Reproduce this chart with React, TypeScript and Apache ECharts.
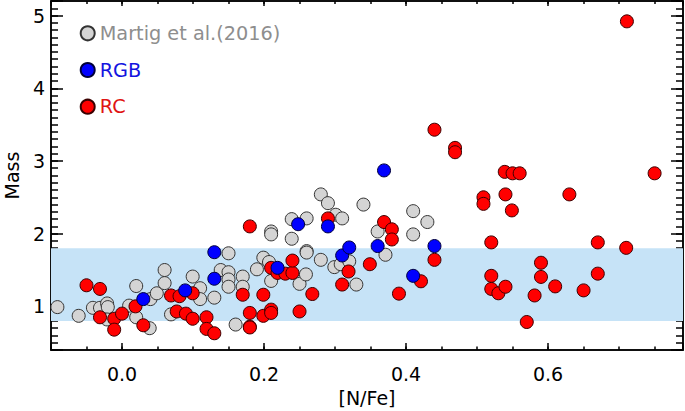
import React, { useEffect, useRef } from "react";
import * as echarts from "echarts";

// [N/Fe], Mass
const martigPoints: [number, number][] = [
  [-0.091, 0.99], [-0.061, 0.87], [-0.041, 0.98], [-0.031, 0.98], [-0.021, 1.04],
  [-0.02, 0.99], [-0.021, 0.82], [0.01, 1.01], [0.02, 1.28], [0.02, 0.85],
  [0.039, 0.7], [0.04, 1.1], [0.049, 1.18], [0.06, 1.32], [0.06, 1.5],
  [0.069, 0.89], [0.0995, 1.41], [0.11, 1.25], [0.11, 1.1], [0.13, 1.12],
  [0.139, 1.5], [0.15, 1.47], [0.15, 1.37], [0.15, 1.27], [0.15, 1.73],
  [0.17, 1.41], [0.17, 1.27], [0.16, 0.75], [0.19, 1.51], [0.199, 1.67],
  [0.207, 1.61], [0.21, 1.35], [0.21, 2.03], [0.21, 1.99], [0.239, 2.2],
  [0.239, 1.93], [0.25, 1.31], [0.26, 2.21], [0.26, 1.76], [0.26, 1.74],
  [0.259, 1.44], [0.28, 2.54], [0.29, 2.42], [0.301, 2.26], [0.31, 2.21],
  [0.28, 1.64], [0.299, 1.54], [0.308, 1.58], [0.32, 1.62], [0.33, 1.3],
  [0.34, 2.4], [0.36, 2.03], [0.371, 1.71], [0.41, 2.31], [0.41, 1.99],
  [0.43, 2.16],
];

const rcPoints: [number, number][] = [
  [-0.05, 1.29], [-0.031, 1.24], [-0.031, 0.85], [-0.011, 0.83], [-0.011, 0.68],
  [0.0, 0.9], [0.019, 1.0], [0.03, 0.74], [0.069, 1.15], [0.081, 1.14],
  [0.0995, 1.18], [0.077, 0.93], [0.09, 0.9], [0.0995, 0.83], [0.119, 0.85],
  [0.119, 0.69], [0.13, 0.63], [0.17, 1.16], [0.18, 2.1], [0.18, 0.91],
  [0.18, 0.72], [0.18, 0.71], [0.199, 1.16], [0.199, 0.87], [0.21, 0.955],
  [0.21, 0.91], [0.21, 1.53], [0.219, 1.46], [0.23, 1.45], [0.24, 1.46],
  [0.24, 1.63], [0.25, 0.93], [0.268, 1.17], [0.29, 2.21], [0.31, 1.3],
  [0.319, 1.48], [0.349, 1.58], [0.369, 2.16], [0.38, 2.06], [0.38, 1.92],
  [0.39, 1.175], [0.421, 1.345], [0.44, 1.64], [0.44, 3.43], [0.469, 3.18],
  [0.469, 3.12], [0.509, 2.5], [0.509, 2.41], [0.549, 2.32], [0.54, 2.54],
  [0.539, 2.85], [0.55, 2.83], [0.56, 2.83], [0.63, 2.54], [0.75, 2.83],
  [0.711, 4.92], [0.52, 1.88], [0.52, 1.42], [0.52, 1.24], [0.53, 1.18],
  [0.54, 1.27], [0.57, 0.785], [0.581, 1.15], [0.59, 1.6], [0.59, 1.405],
  [0.61, 1.275], [0.65, 1.22], [0.67, 1.88], [0.67, 1.45], [0.71, 1.805],
];

const rgbPoints: [number, number][] = [
  [0.03, 1.1], [0.089, 1.22], [0.13, 1.745], [0.13, 1.38], [0.219, 1.53],
  [0.248, 2.13], [0.29, 2.1], [0.31, 1.7], [0.32, 1.81], [0.36, 1.83],
  [0.369, 2.87], [0.41, 1.42], [0.44, 1.83],
];

const seriesNames = ["Martig et al.(2016)", "RGB", "RC"];
const band = [0.8, 1.8];
const xRange = [-0.1, 0.79];
const yRange = [0.4, 5.2];

const FONT = "DejaVu Sans";

export default function App() {
  const ref = useRef<HTMLDivElement>(null);
  useEffect(() => {
    if (!ref.current) return;
    const chart = echarts.init(ref.current, null, { renderer: "svg" });
    const lineStyle = { color: "#000", width: 1.5 };
    const xBase = {
      type: "value",
      min: xRange[0],
      max: xRange[1],
      splitLine: { show: false },
      axisLine: { show: true, onZero: false, lineStyle },
    };
    const yBase = {
      type: "value",
      min: yRange[0],
      max: yRange[1],
      splitLine: { show: false },
      axisLine: { show: true, onZero: false, lineStyle },
    };
    const isMult = (v: number, step: number) =>
      Math.abs(v / step - Math.round(v / step)) < 1e-6;
    chart.setOption({
      animation: false,
      grid: {
        left: 51,
        right: 2,
        top: 1,
        bottom: 61,
        containLabel: false,
        outerBoundsMode: "none",
      },
      legend: {
        orient: "vertical",
        left: 74.7,
        top: 18.8,
        itemGap: 17.7,
        itemWidth: 14,
        itemHeight: 14,
        icon: "circle",
        selectedMode: false,
        textStyle: { fontSize: 19.3, fontFamily: FONT },
        data: [
          { name: seriesNames[0], textStyle: { color: "#8e8e8e" } },
          { name: seriesNames[1], textStyle: { color: "#1414e0" } },
          { name: seriesNames[2], textStyle: { color: "#e01414" } },
        ],
      },
      xAxis: [
        {
          ...xBase,
          position: "bottom",
          splitNumber: 5,
          axisTick: { show: true, inside: true, length: 7, lineStyle },
          axisLabel: {
            show: true,
            margin: 14,
            fontSize: 19,
            fontFamily: FONT,
            color: "#000",
            formatter: (v: number) => (isMult(v, 0.2) ? v.toFixed(1) : ""),
          },
          name: "[N/Fe]",
          nameLocation: "middle",
          nameGap: 38,
          nameTextStyle: { fontSize: 19, fontFamily: FONT, color: "#000" },
        },
        {
          ...xBase,
          position: "bottom",
          interval: 0.05,
          axisTick: { show: true, inside: true, length: 3.5, lineStyle },
          axisLabel: { show: false },
        },
        {
          ...xBase,
          position: "top",
          splitNumber: 5,
          axisTick: { show: true, inside: true, length: 5, lineStyle },
          axisLabel: { show: false },
        },
        {
          ...xBase,
          position: "top",
          interval: 0.05,
          axisTick: { show: true, inside: true, length: 3, lineStyle },
          axisLabel: { show: false },
        },
      ],
      yAxis: [
        {
          ...yBase,
          position: "left",
          splitNumber: 5,
          axisTick: { show: true, inside: true, length: 12, lineStyle },
          axisLabel: {
            show: true,
            margin: 6,
            fontSize: 19,
            fontFamily: FONT,
            color: "#000",
            formatter: (v: number) => (isMult(v, 1) ? String(Math.round(v)) : ""),
          },
          name: "Mass",
          nameLocation: "middle",
          nameGap: 30,
          nameTextStyle: { fontSize: 19, fontFamily: FONT, color: "#000" },
        },
        {
          ...yBase,
          position: "left",
          interval: 0.1,
          axisTick: { show: true, inside: true, length: 7, lineStyle },
          axisLabel: { show: false },
        },
        {
          ...yBase,
          position: "right",
          splitNumber: 5,
          axisTick: { show: true, inside: true, length: 12, lineStyle },
          axisLabel: { show: false },
        },
        {
          ...yBase,
          position: "right",
          interval: 0.1,
          axisTick: { show: true, inside: true, length: 7, lineStyle },
          axisLabel: { show: false },
        },
      ],
      series: [
        {
          type: "scatter",
          name: seriesNames[0],
          data: martigPoints,
          symbolSize: 13,
          z: 2,
          itemStyle: { color: "#d4d4d4", borderColor: "#333", borderWidth: 1, opacity: 1 },
          markArea: {
            silent: true,
            itemStyle: { color: "#c6e3f7" },
            data: [[{ yAxis: band[0] }, { yAxis: band[1] }]],
          },
        },
        {
          type: "scatter",
          name: seriesNames[2],
          data: rcPoints,
          symbolSize: 13,
          z: 3,
          itemStyle: { color: "#ff0000", borderColor: "#3a0000", borderWidth: 1, opacity: 1 },
        },
        {
          type: "scatter",
          name: seriesNames[1],
          data: rgbPoints,
          symbolSize: 13,
          z: 4,
          itemStyle: { color: "#0000ff", borderColor: "#00003a", borderWidth: 1, opacity: 1 },
        },
      ],
    });
    return () => chart.dispose();
  }, []);
  return (
    <div
      ref={ref}
      style={{ position: "fixed", left: 0, top: 0, width: 685, height: 411, background: "#fff" }}
    />
  );
}
